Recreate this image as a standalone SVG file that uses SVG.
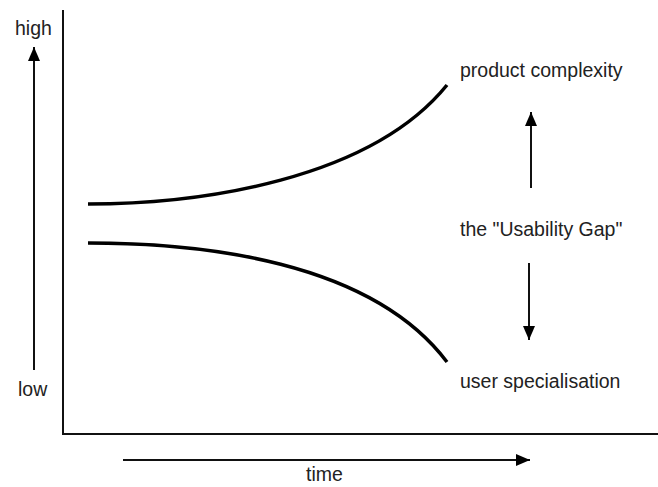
<svg xmlns="http://www.w3.org/2000/svg" width="658" height="487" viewBox="0 0 658 487">
<defs>
<marker id="ah" viewBox="0 0 14 12" refX="14" refY="6" markerWidth="14" markerHeight="12" markerUnits="userSpaceOnUse" orient="auto">
<path d="M0,0 L14,6 L0,12 Z" fill="#000"/>
</marker>
</defs>
<style>
.t{font-family:"Liberation Sans",Arial,sans-serif;font-size:19.5px;fill:#222}
.ax{stroke:#111;stroke-width:2;fill:none}
.ar{stroke:#111;stroke-width:2;fill:none;marker-end:url(#ah)}
.cv{stroke:#000;stroke-width:3.5;fill:none;stroke-linecap:butt}
</style>
<rect width="658" height="487" fill="#fff"/>
<g id="connectors">
<path class="ax" d="M63,10 L63,434 L658,434"/>
<line class="ar" x1="34" y1="370" x2="34" y2="47"/>
<line class="ar" x1="123" y1="460" x2="530" y2="460"/>
<line class="ar" x1="531" y1="188" x2="531" y2="112"/>
<line class="ar" x1="529" y1="263" x2="529" y2="340"/>
</g>
<g id="curve-product">
<path class="cv" d="M88,204 C200,204 370,180 447,85"/>
</g>
<g id="curve-user">
<path class="cv" d="M88,243 C200,243 370,260 447,362"/>
</g>
<g id="labels">
<text class="t" x="15" y="35">high</text>
<text class="t" x="18" y="396">low</text>
<text class="t" x="306" y="481">time</text>
<text class="t" x="460" y="77">product complexity</text>
<text class="t" x="460" y="236">the "Usability Gap"</text>
<text class="t" x="460" y="388">user specialisation</text>
</g>
</svg>
